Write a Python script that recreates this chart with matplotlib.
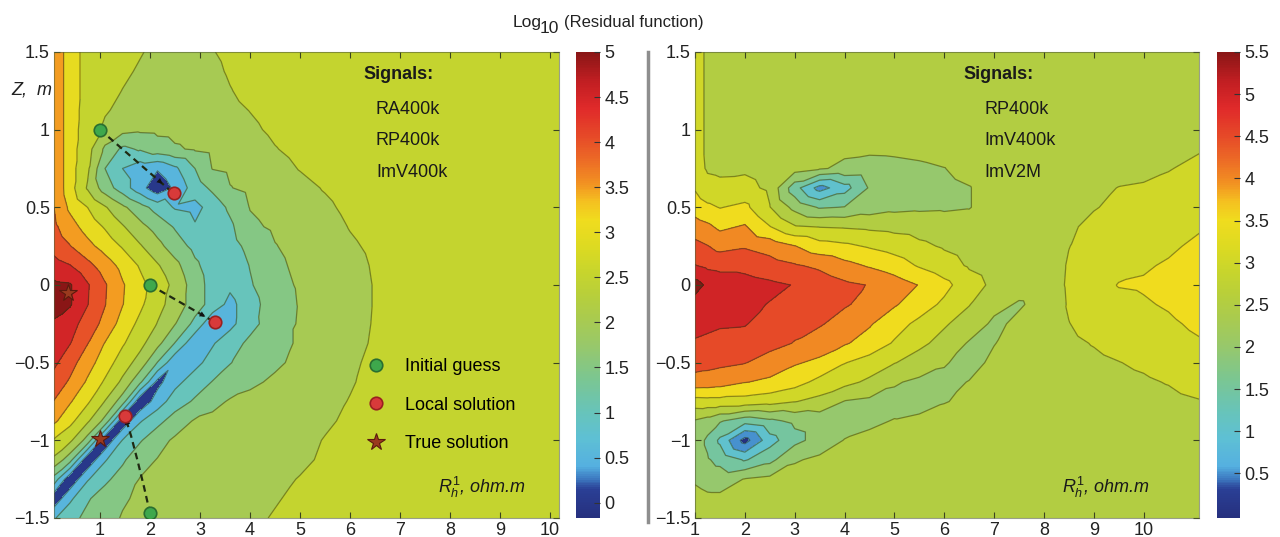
import numpy as np
import matplotlib
matplotlib.use("Agg")
import matplotlib.pyplot as plt
import matplotlib.tri as mtri
from matplotlib import ticker
from matplotlib.colors import LinearSegmentedColormap, Normalize
from matplotlib.cm import ScalarMappable
from matplotlib.lines import Line2D

plt.rcParams["font.family"] = ["Liberation Sans", "DejaVu Sans"]
plt.rcParams["mathtext.fontset"] = "custom"
plt.rcParams["mathtext.rm"] = "Liberation Sans"
plt.rcParams["mathtext.it"] = "Liberation Sans:italic"

# depth rows (Z, m), top to bottom
z_rows = [1.5, 1.375, 1.25, 1.125, 1.0, 0.875, 0.75, 0.625, 0.5, 0.375, 0.25, 0.125, 0.0,
          -0.125, -0.25, -0.375, -0.5, -0.625, -0.75, -0.875, -1.0, -1.125, -1.25, -1.375, -1.5]

# left panel: RA400k, RP400k, ImV400k
rh_left = [0.08, 0.4, 0.75, 1.1, 1.45, 1.8, 2.15, 2.5, 2.9, 3.25, 3.6, 4.0, 4.5, 5.0, 5.5, 6.0, 6.5, 7.0, 8.0, 10.18]
resid_left = [
    [3.95, 3.2, 2.85, 2.75, 2.65, 2.53, 2.4, 2.3, 2.35, 2.48, 2.6, 2.7] + [2.75] * 8,
    [3.95, 3.2, 2.85, 2.72, 2.58, 2.45, 2.32, 2.25, 2.3, 2.4, 2.55, 2.68] + [2.75] * 8,
    [3.95, 3.2, 2.85, 2.65, 2.49, 2.35, 2.25, 2.2, 2.22, 2.32, 2.48, 2.62, 2.72] + [2.75] * 7,
    [3.95, 3.2, 2.82, 2.55, 2.38, 2.27, 2.2, 2.18, 2.2, 2.27, 2.4, 2.51, 2.65, 2.73] + [2.75] * 6,
    [3.95, 3.2, 2.78, 2.4, 2.15, 2.08, 2.1, 2.12, 2.15, 2.2, 2.3, 2.42, 2.58, 2.7] + [2.75] * 6,
    [3.95, 3.2, 2.7, 1.9, 1.4, 1.55, 1.8, 1.95, 2.05, 2.12, 2.2, 2.3, 2.48, 2.62, 2.7] + [2.75] * 5,
    [3.95, 3.2, 2.6, 1.5, 1.0, 0.7, 0.55, 0.9, 1.5, 2.02, 2.1, 2.2, 2.35, 2.52, 2.67, 2.73] + [2.75] * 4,
    [3.95, 3.2, 2.45, 1.75, 1.25, 0.7, 0.15, 0.6, 1.25, 1.6, 1.98, 2.12, 2.25, 2.38, 2.53, 2.68, 2.74] + [2.75] * 3,
    [4.0, 3.4, 3.0, 2.55, 2.1, 1.7, 1.3, 0.95, 0.85, 1.2, 1.6, 2.02, 2.18, 2.3, 2.42, 2.6, 2.72] + [2.75] * 3,
    [4.1, 3.7, 3.3, 2.95, 2.55, 2.15, 1.8, 1.45, 1.05, 1.05, 1.4, 1.9, 2.08, 2.22, 2.33, 2.52, 2.65, 2.74, 2.75, 2.75],
    [4.3, 4.02, 3.65, 3.3, 2.95, 2.55, 2.15, 1.75, 1.35, 1.12, 1.3, 1.65, 1.98, 2.15, 2.27, 2.44, 2.58, 2.72, 2.75, 2.75],
    [4.7, 4.52, 4.15, 3.75, 3.35, 2.95, 2.55, 2.15, 1.6, 1.25, 1.15, 1.52, 1.9, 2.1, 2.22, 2.37, 2.54, 2.7, 2.75, 2.75],
    [5.1, 5.05, 4.55, 4.05, 3.55, 3.15, 2.8, 2.35, 1.75, 1.3, 1.1, 1.45, 1.85, 2.05, 2.2, 2.35, 2.52, 2.7, 2.75, 2.75],
    [5.15, 5.05, 4.52, 4.02, 3.52, 3.1, 2.65, 2.3, 1.75, 1.3, 0.85, 1.3, 1.78, 2.03, 2.2, 2.35, 2.52, 2.7, 2.75, 2.75],
    [4.95, 4.7, 4.28, 3.85, 3.3, 2.88, 2.48, 2.02, 1.35, 0.6, 0.85, 1.35, 1.75, 2.05, 2.2, 2.35, 2.53, 2.7, 2.75, 2.75],
    [4.8, 4.52, 4.02, 3.48, 3.06, 2.65, 2.15, 1.48, 0.6, 0.95, 1.3, 1.6, 1.87, 2.05, 2.2, 2.37, 2.55, 2.7, 2.75, 2.75],
    [4.6, 4.2, 3.7, 3.25, 2.75, 2.3, 1.48, 0.6, 0.85, 1.2, 1.48, 1.7, 1.93, 2.1, 2.25, 2.42, 2.6, 2.72, 2.75, 2.75],
    [4.3, 3.93, 3.43, 2.93, 2.4, 1.6, 0.35, 0.85, 1.25, 1.52, 1.72, 1.92, 2.07, 2.18, 2.3, 2.46, 2.63, 2.73, 2.75, 2.75],
    [3.98, 3.55, 3.08, 2.48, 1.75, 0.1, 0.75, 1.25, 1.57, 1.85, 2.05, 2.12, 2.18, 2.25, 2.37, 2.52, 2.66, 2.73, 2.75, 2.75],
    [3.6, 3.15, 2.58, 1.85, 0.12, 0.95, 1.35, 1.72, 2.05, 2.13, 2.17, 2.2, 2.25, 2.32, 2.44, 2.57, 2.68, 2.74, 2.75, 2.75],
    [2.95, 2.6, 1.8, 0.1, 1.02, 1.45, 1.82, 2.08, 2.15, 2.18, 2.2, 2.23, 2.28, 2.38, 2.52, 2.62, 2.7, 2.74, 2.75, 2.75],
    [2.4, 1.7, 0.1, 0.95, 1.42, 1.82, 2.02, 2.1, 2.15, 2.2, 2.22, 2.25, 2.32, 2.42, 2.56, 2.66, 2.72, 2.75, 2.75, 2.75],
    [1.3, 0.1, 0.95, 1.4, 1.7, 2.02, 2.1, 2.14, 2.18, 2.21, 2.24, 2.3, 2.4, 2.52, 2.63, 2.7, 2.74, 2.75, 2.75, 2.75],
    [0.15, 0.9, 1.45, 1.72, 1.95, 2.07, 2.12, 2.15, 2.2, 2.24, 2.28, 2.36, 2.47, 2.58, 2.67, 2.72, 2.75, 2.75, 2.75, 2.75],
    [0.95, 1.35, 1.62, 1.85, 2.03, 2.1, 2.14, 2.17, 2.22, 2.27, 2.33, 2.42, 2.53, 2.63, 2.7, 2.74, 2.75, 2.75, 2.75, 2.75],
]

# right panel: RP400k, ImV400k, ImV2M
rh_right = [1.0, 1.25, 1.5, 2.0, 2.5, 3.0, 3.5, 4.0, 4.5, 5.0, 5.5, 6.0, 6.5, 7.0, 7.5, 8.0, 8.5, 9.0, 9.5, 10.0, 10.5, 11.12]
resid_right = [
    [3.2, 2.92, 2.8] + [2.75] * 17 + [2.76, 2.8],
    [3.2, 2.92, 2.8] + [2.75] * 16 + [2.76, 2.77, 2.82],
    [3.2, 2.92, 2.8] + [2.75] * 16 + [2.76, 2.78, 2.85],
    [3.2, 2.92, 2.8] + [2.75] * 16 + [2.77, 2.8, 2.88],
    [3.2, 2.92, 2.82] + [2.75] * 15 + [2.76, 2.78, 2.83, 2.92],
    [3.2, 2.92, 2.85, 2.85, 2.78, 2.72, 2.66, 2.6, 2.57, 2.58, 2.62, 2.68, 2.72, 2.75, 2.75, 2.75, 2.75, 2.76, 2.78, 2.82, 2.9, 2.97],
    [3.2, 2.95, 2.92, 2.93, 2.8, 2.7, 2.55, 2.4, 2.35, 2.38, 2.42, 2.49, 2.65, 2.75, 2.75, 2.75, 2.76, 2.8, 2.85, 2.9, 2.98, 3.1],
    [3.45, 3.15, 3.1, 3.15, 2.9, 1.7, 0.8, 1.3, 2.05, 2.2, 2.3, 2.38, 2.48, 2.7, 2.75, 2.75, 2.78, 2.9, 3.01, 3.04, 3.1, 3.2],
    [3.78, 3.6, 3.48, 3.62, 3.02, 2.35, 1.95, 2.02, 2.25, 2.38, 2.42, 2.44, 2.48, 2.7, 2.75, 2.75, 2.85, 2.98, 3.07, 3.12, 3.2, 3.3],
    [4.22, 4.1, 3.9, 4.05, 3.52, 3.05, 2.98, 2.95, 2.9, 2.85, 2.8, 2.72, 2.7, 2.72, 2.75, 2.75, 2.95, 3.08, 3.17, 3.22, 3.3, 3.45],
    [4.65, 4.52, 4.35, 4.45, 4.3, 4.02, 3.7, 3.6, 3.45, 3.3, 3.1, 2.95, 2.82, 2.75, 2.72, 2.72, 2.99, 3.16, 3.27, 3.32, 3.42, 3.6],
    [5.02, 4.9, 4.85, 4.85, 4.7, 4.55, 4.4, 4.15, 3.95, 3.75, 3.45, 3.2, 2.95, 2.8, 2.72, 2.72, 3.04, 3.22, 3.37, 3.45, 3.55, 3.75],
    [5.7, 5.4, 5.3, 5.2, 5.1, 4.98, 4.8, 4.6, 4.48, 4.25, 3.98, 3.65, 3.2, 2.9, 2.7, 2.72, 3.06, 3.3, 3.52, 3.55, 3.65, 3.82],
    [5.3, 5.2, 5.15, 5.1, 4.98, 4.8, 4.6, 4.55, 4.35, 4.05, 3.75, 3.4, 3.02, 2.65, 2.45, 2.66, 3.04, 3.22, 3.37, 3.45, 3.55, 3.75],
    [5.15, 5.1, 5.05, 5.03, 4.8, 4.62, 4.55, 4.3, 4.05, 3.7, 3.38, 3.05, 2.8, 2.4, 2.6, 2.7, 2.99, 3.14, 3.25, 3.32, 3.42, 3.6],
    [4.95, 4.9, 4.85, 4.8, 4.65, 4.48, 4.25, 4.05, 3.8, 3.45, 3.1, 2.85, 2.45, 2.48, 2.72, 2.75, 2.92, 3.02, 3.12, 3.2, 3.3, 3.45],
    [4.7, 4.65, 4.6, 4.52, 4.3, 4.05, 3.9, 3.52, 3.3, 3.02, 2.8, 2.55, 2.3, 2.62, 2.75, 2.75, 2.85, 2.92, 2.99, 3.06, 3.15, 3.3],
    [4.3, 4.28, 4.22, 4.02, 3.9, 3.7, 3.35, 3.15, 2.9, 2.55, 2.4, 2.35, 2.52, 2.72, 2.75, 2.75, 2.8, 2.85, 2.9, 2.95, 3.02, 3.15],
    [3.3, 3.32, 3.32, 3.3, 3.2, 3.02, 2.85, 2.48, 2.4, 2.35, 2.32, 2.48, 2.58, 2.73, 2.75, 2.75, 2.77, 2.8, 2.82, 2.85, 2.9, 2.98],
    [2.45, 2.3, 2.05, 1.7, 1.9, 2.1, 2.2, 2.25, 2.42, 2.52, 2.6, 2.66, 2.72, 2.75, 2.75, 2.75, 2.76, 2.78, 2.8, 2.82, 2.86, 2.92],
    [2.3, 1.9, 1.4, 0.3, 1.3, 1.85, 2.2, 2.52, 2.6, 2.68, 2.73, 2.75, 2.75, 2.75, 2.75, 2.75, 2.75, 2.76, 2.78, 2.8, 2.83, 2.88],
    [2.3, 2.05, 1.85, 1.45, 1.85, 2.45, 2.6, 2.67, 2.72] + [2.75] * 9 + [2.76, 2.78, 2.8, 2.84],
    [2.42, 2.3, 2.28, 2.52, 2.62, 2.7, 2.74] + [2.75] * 12 + [2.76, 2.78, 2.81],
    [2.7, 2.6, 2.6, 2.7] + [2.75] * 15 + [2.76, 2.78, 2.8],
    [2.75] * 20 + [2.76, 2.78],
]

# inversion runs on the left panel
guess_x = [1.0, 2.0, 2.0]
guess_y = [1.0, 0.0, -1.47]
local_x = [2.47, 3.3, 1.5]
local_y = [0.59, -0.24, -0.845]
true_x = [1.0, 0.35]
true_y = [-0.99, -0.05]
paths = [
    ([1.0, 2.47], [1.0, 0.59]),
    ([2.0, 3.3], [0.0, -0.24]),
    ([2.0, 1.88, 1.75, 1.62, 1.5], [-1.47, -1.3, -1.13, -0.97, -0.845]),
]

signals_left = ["RA400k", "RP400k", "ImV400k"]
signals_right = ["RP400k", "ImV400k", "ImV2M"]
signal_y = [1.103, 0.901, 0.695]

levels_left = [0.0, 0.5, 1.0, 1.5, 2.0, 2.5, 3.0, 3.5, 4.0, 4.5, 5.0, 6.0]
levels_right = [0.0, 0.5, 1.0, 1.5, 2.0, 2.5, 3.0, 3.5, 4.0, 4.5, 5.0, 5.5, 6.0]
cticks_left = [0, 0.5, 1, 1.5, 2, 2.5, 3, 3.5, 4, 4.5, 5]
cticks_right = [0.5, 1, 1.5, 2, 2.5, 3, 3.5, 4, 4.5, 5, 5.5]
xticks = [1, 2, 3, 4, 5, 6, 7, 8, 9, 10]
yticks = [-1.5, -1, -0.5, 0, 0.5, 1, 1.5]

cmap = LinearSegmentedColormap.from_list("resid", [
    (0.0, "#26307e"), (0.06, "#2a3f95"), (0.085, "#3f7fc4"), (0.11, "#55b0e0"),
    (0.17, "#5ec0d4"), (0.23, "#68c4b8"), (0.30, "#7cc690"), (0.37, "#98c86a"),
    (0.43, "#aacb4e"), (0.48, "#b8cf3a"), (0.53, "#c8d52c"), (0.58, "#dcda22"),
    (0.64, "#f0dc1e"), (0.68, "#f4c020"), (0.72, "#f29022"), (0.77, "#ec6a26"),
    (0.82, "#e64a28"), (0.88, "#e02a2a"), (0.94, "#c01e22"), (1.0, "#8a1616")])

fmt = ticker.FuncFormatter(lambda v, p: f"{v:g}".replace("-", "\u2212"))


def grid_tri(xs, ys):
    X, Y = np.meshgrid(xs, ys)
    nx = len(xs)
    tris = []
    for j in range(len(ys) - 1):
        for i in range(nx - 1):
            a = j * nx + i
            tris.append([a, a + 1, a + nx + 1])
            tris.append([a, a + nx + 1, a + nx])
    return mtri.Triangulation(X.ravel(), Y.ravel(), np.array(tris))


def draw_panel(ax, cax, xs, field, levels, vmin, vmax, cticks):
    tri = grid_tri(xs, z_rows[::-1])
    vals = np.array(field, dtype=float)[::-1].ravel()
    norm = Normalize(vmin, vmax)
    ax.tricontourf(tri, vals, levels=levels, colors=[cmap(norm(v)) for v in levels[:-1]])
    ax.tricontour(tri, vals, levels=levels[1:-1], colors="#2b3312", linewidths=0.9, alpha=0.5)
    ax.set_xlim(xs[0], xs[-1])
    ax.set_ylim(-1.5, 1.5)
    ax.set_xticks(xticks)
    ax.set_yticks(yticks)
    ax.xaxis.set_major_formatter(fmt)
    ax.yaxis.set_major_formatter(fmt)
    ax.tick_params(direction="in", top=True, right=True, length=4, width=0.8,
                   color="#3b4420", labelsize=13, labelcolor="#222222", pad=3)
    for s in ax.spines.values():
        s.set_color("#55603a")
        s.set_alpha(0.6)
        s.set_linewidth(0.8)
    cb = fig.colorbar(ScalarMappable(norm=norm, cmap=cmap), cax=cax, ticks=cticks)
    cb.outline.set_visible(False)
    cb.ax.yaxis.set_major_formatter(fmt)
    cax.tick_params(direction="in", length=4, width=0.8, color="#333333",
                    labelsize=13, labelcolor="#222222", pad=3)


fig = plt.figure(figsize=(12.8, 5.37), dpi=100)
ax1 = fig.add_axes([0.0422, 0.0354, 0.3945, 0.8678])
cax1 = fig.add_axes([0.45, 0.0354, 0.01875, 0.8678])
ax2 = fig.add_axes([0.543, 0.0354, 0.394, 0.8678])
cax2 = fig.add_axes([0.9508, 0.0354, 0.018, 0.8678])

draw_panel(ax1, cax1, rh_left, resid_left, levels_left, -0.17, 5.0, cticks_left)
draw_panel(ax2, cax2, rh_right, resid_right, levels_right, -0.03, 5.5, cticks_right)

for px, py in paths:
    ax1.plot(px, py, ls=(0, (3, 2)), color="#1f2a12", lw=1.6, zorder=4)
    x0, y0, x1, y1 = px[-2], py[-2], px[-1], py[-1]
    ax1.annotate("", xy=(x0 + 0.85 * (x1 - x0), y0 + 0.85 * (y1 - y0)),
                 xytext=(x0 + 0.6 * (x1 - x0), y0 + 0.6 * (y1 - y0)),
                 arrowprops=dict(arrowstyle="-|>", color="#111111", lw=0.01,
                                 mutation_scale=10, shrinkA=0, shrinkB=0), zorder=5)

ax1.plot(guess_x, guess_y, "o", ms=9, mfc="#3ea84c", mec="#2a6e30", mew=1.2,
         label="Initial guess", zorder=6)
ax1.plot(local_x, local_y, "o", ms=9, mfc="#d83a3a", mec="#9a2020", mew=1.2,
         label="Local solution", zorder=6)
ax1.plot(true_x, true_y, "*", ms=13, mfc="#9a3a1e", mec="#5a1a0e", mew=0.8,
         label="True solution", zorder=7)
ax1.legend(loc="upper left", bbox_to_anchor=(0.616, 0.343), frameon=False, fontsize=13,
           handlelength=1.2, handletextpad=1.0, labelspacing=1.2, borderpad=0,
           borderaxespad=0, numpoints=1)

ax1.text(6.26, 1.323, "Signals:", fontsize=13, fontweight="bold", color="#1a1a1a")
for s, yy in zip(signals_left, signal_y):
    ax1.text(6.52, yy, s, fontsize=13, color="#1a1a1a")
ax1.text(7.76, -1.34, r"$R_h^1$, ohm.m", fontsize=13, style="italic", color="#1a1a1a")
ax1.text(-0.004, 0.908, "Z,  m", transform=ax1.transAxes, ha="right", fontsize=13,
         style="italic", color="#222222")

ax2.text(6.38, 1.323, "Signals:", fontsize=13, fontweight="bold", color="#1a1a1a")
for s, yy in zip(signals_right, signal_y):
    ax2.text(6.8, yy, s, fontsize=13, color="#1a1a1a")
ax2.text(8.37, -1.34, r"$R_h^1$, ohm.m", fontsize=13, style="italic", color="#1a1a1a")

fig.text(0.4008, 0.950, "Log", fontsize=12.5, color="#222222")
fig.text(0.4215, 0.939, "10", fontsize=12.5, color="#222222")
fig.text(0.4410, 0.950, "(Residual function)", fontsize=12, color="#222222")
fig.add_artist(Line2D([0.5063, 0.5063], [0.028, 0.903], color="#8e8e8e", lw=2.5))

fig.savefig("out.png", dpi=100)
